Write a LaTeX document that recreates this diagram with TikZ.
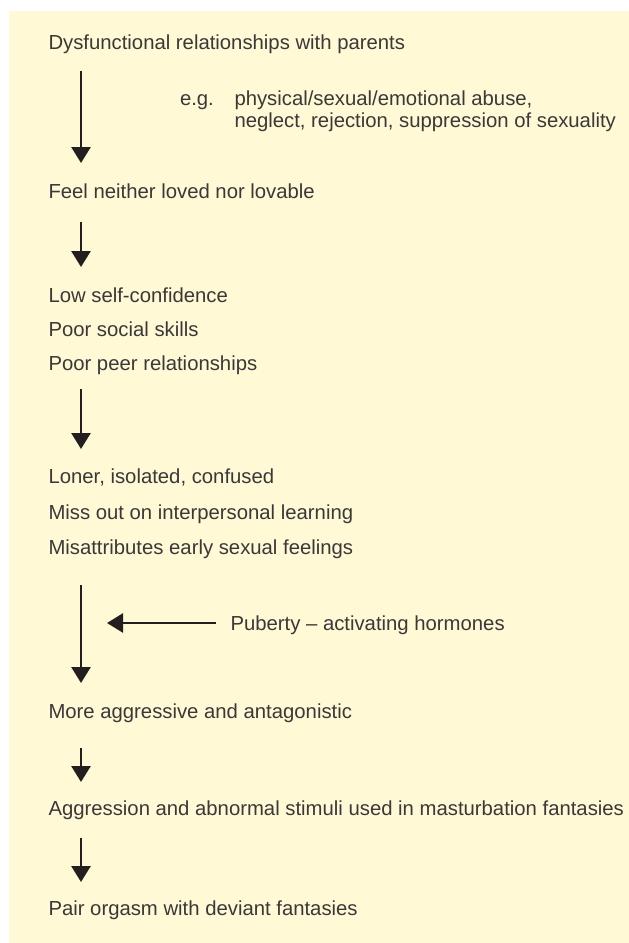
\documentclass[tikz,border=0pt]{standalone}
\usepackage{fontspec}
\setmainfont{Liberation Sans}
\usetikzlibrary{arrows.meta}
\definecolor{bgyellow}{RGB}{255,249,213}
\definecolor{txtgray}{RGB}{58,56,56}
\definecolor{arrowblk}{RGB}{35,31,32}
\tikzset{
  lbl/.style={anchor=base west, inner sep=0pt, outer sep=0pt, text=txtgray, font=\fontsize{20.3}{24}\selectfont},
  flow/.style={draw=arrowblk, line width=2.8pt, -{Triangle[length=16pt,width=19pt]}}
}
\begin{document}
\begin{tikzpicture}[x=1pt,y=-1pt]
\useasboundingbox (0,0) rectangle (629,943);
\fill[bgyellow] (9,11) rectangle (629,943);
% texts
\node[lbl] (t1) at (48.5,49) {Dysfunctional relationships with parents};
\node[lbl] (eg) at (180,105) {e.g.};
\node[lbl] (eg1) at (234.5,105) {physical/sexual/emotional abuse,};
\node[lbl] (eg2) at (234.5,127) {neglect, rejection, suppression of sexuality};
\node[lbl] (t2) at (48.5,198) {Feel neither loved nor lovable};
\node[lbl] (t3a) at (48.5,302) {Low self-confidence};
\node[lbl] (t3b) at (48.5,336) {Poor social skills};
\node[lbl] (t3c) at (48.5,370) {Poor peer relationships};
\node[lbl] (t4a) at (48.5,483) {Loner, isolated, confused};
\node[lbl] (t4b) at (48.5,519) {Miss out on interpersonal learning};
\node[lbl] (t4c) at (48.5,554) {Misattributes early sexual feelings};
\node[lbl] (pub) at (230.5,630) {Puberty -- activating hormones};
\node[lbl] (t5) at (48.5,718) {More aggressive and antagonistic};
\node[lbl] (t6) at (48.5,815) {Aggression and abnormal stimuli used in masturbation fantasies};
\node[lbl] (t7) at (48.5,915) {Pair orgasm with deviant fantasies};
% arrow end points
\coordinate (a1s) at (81,71);  \coordinate (a1e) at (81,163);
\coordinate (a2s) at (81,222); \coordinate (a2e) at (81,267);
\coordinate (a3s) at (81,389); \coordinate (a3e) at (81,449);
\coordinate (a4s) at (81,585); \coordinate (a4e) at (81,683);
\coordinate (a5s) at (81,748); \coordinate (a5e) at (81,782);
\coordinate (a6s) at (81,838); \coordinate (a6e) at (81,882);
\coordinate (ps) at (216,623); \coordinate (pe) at (107,623);
\draw[flow] (a1s) -- (a1e);
\draw[flow] (a2s) -- (a2e);
\draw[flow] (a3s) -- (a3e);
\draw[flow] (a4s) -- (a4e);
\draw[flow] (a5s) -- (a5e);
\draw[flow] (a6s) -- (a6e);
\draw[flow, line width=2.5pt] (ps) -- (pe);
\end{tikzpicture}
\end{document}
